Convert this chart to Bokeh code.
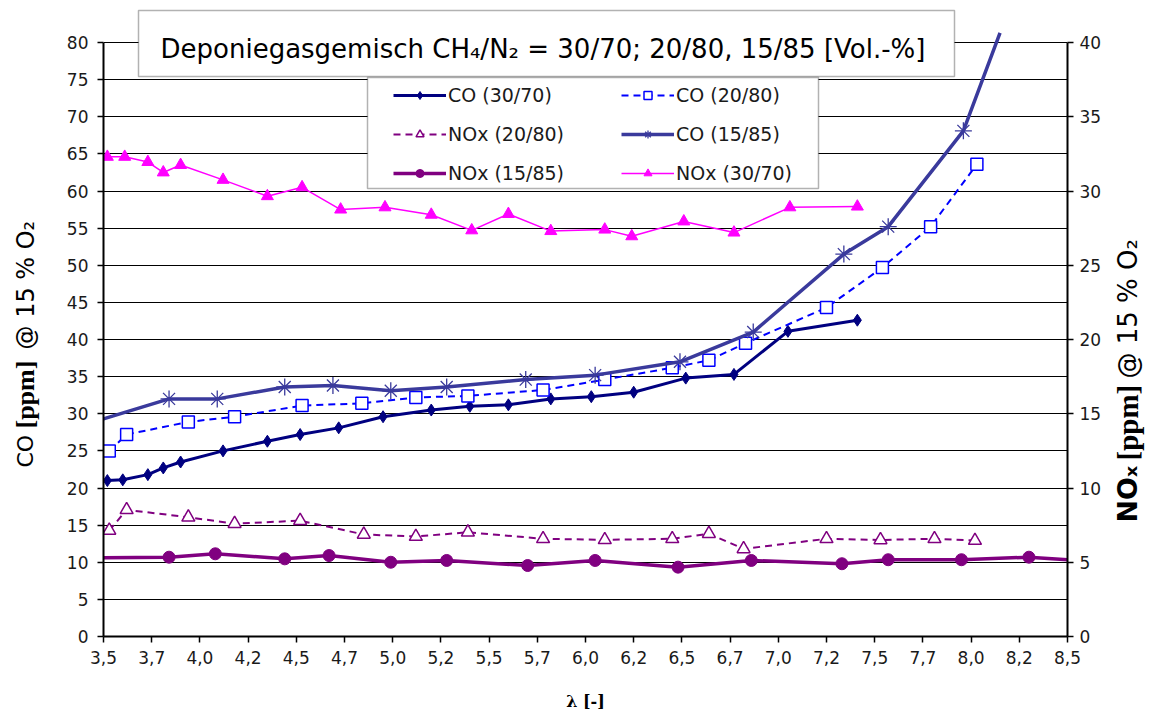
import math
from bokeh.plotting import figure
from bokeh.layouts import row
from bokeh.models import Range1d, LinearAxis, FixedTicker, Legend, LegendItem, Label, BoxAnnotation
from bokeh.embed import file_html
from bokeh.resources import INLINE

# ---------------- data ----------------
x_ticks = [3.5, 3.75, 4.0, 4.25, 4.5, 4.75, 5.0, 5.25, 5.5, 5.75, 6.0,
           6.25, 6.5, 6.75, 7.0, 7.25, 7.5, 7.75, 8.0, 8.25, 8.5]
x_tick_labels = ["3,5", "3,7", "4,0", "4,2", "4,5", "4,7", "5,0", "5,2", "5,5", "5,7", "6,0",
                 "6,2", "6,5", "6,7", "7,0", "7,2", "7,5", "7,7", "8,0", "8,2", "8,5"]
co_ticks = list(range(0, 81, 5))
nox_ticks = list(range(0, 41, 5))

co_30_70_x = [3.52, 3.60, 3.73, 3.81, 3.90, 4.12, 4.35, 4.52, 4.72, 4.95, 5.20, 5.40,
              5.60, 5.82, 6.03, 6.25, 6.52, 6.77, 7.05, 7.41]
co_30_70_y = [21.0, 21.1, 21.8, 22.7, 23.5, 25.0, 26.3, 27.2, 28.1, 29.6, 30.5, 31.0,
              31.2, 32.0, 32.3, 32.9, 34.8, 35.3, 41.1, 42.6]

co_20_80_x = [3.53, 3.62, 3.94, 4.18, 4.53, 4.84, 5.12, 5.39, 5.78, 6.10, 6.45, 6.64,
              6.83, 7.25, 7.54, 7.79, 8.03]
co_20_80_y = [25.0, 27.2, 28.9, 29.6, 31.1, 31.4, 32.2, 32.4, 33.2, 34.6, 36.2, 37.2,
              39.5, 44.3, 49.7, 55.2, 63.6]

co_15_85_x = [3.50, 3.84, 4.09, 4.44, 4.69, 4.99, 5.28, 5.69, 6.05, 6.49, 6.87, 7.34,
              7.57, 7.96, 8.15]
co_15_85_y = [29.3, 32.0, 32.0, 33.6, 33.8, 33.1, 33.6, 34.6, 35.2, 37.0, 41.0, 51.5,
              55.2, 68.1, 81.3]

nox_20_80_x = [3.53, 3.62, 3.94, 4.18, 4.52, 4.85, 5.12, 5.39, 5.78, 6.10, 6.45, 6.64,
               6.82, 7.25, 7.53, 7.81, 8.02]
nox_20_80_y = [7.14, 8.53, 8.03, 7.60, 7.80, 6.87, 6.73, 7.02, 6.58, 6.51, 6.58, 6.92,
               5.90, 6.58, 6.50, 6.58, 6.46]

nox_15_85_x = [3.50, 3.84, 4.08, 4.44, 4.67, 4.99, 5.28, 5.70, 6.05, 6.48, 6.86, 7.33,
               7.57, 7.95, 8.30, 8.50]
nox_15_85_y = [5.30, 5.34, 5.57, 5.23, 5.45, 5.00, 5.12, 4.78, 5.12, 4.67, 5.12, 4.90,
               5.17, 5.17, 5.34, 5.17]

nox_30_70_x = [3.52, 3.61, 3.73, 3.81, 3.90, 4.12, 4.35, 4.53, 4.73, 4.96, 5.20, 5.41,
               5.60, 5.82, 6.10, 6.24, 6.51, 6.77, 7.06, 7.41]
nox_30_70_y = [32.3, 32.3, 31.95, 31.25, 31.75, 30.75, 29.65, 30.25, 28.75, 28.9, 28.4, 27.35,
               28.45, 27.3, 27.4, 26.95, 27.95, 27.2, 28.9, 28.95]

title_text = "Deponiegasgemisch CH\u2084/N\u2082 = 30/70; 20/80, 15/85 [Vol.-%]"
left_title_parts = ["CO", "[ppm]", "@ 15 % O\u2082"]
right_title_parts = ["NO\u2093", "[ppm]", "@ 15 % O\u2082"]
bottom_title = "\u03bb [-]"

# ---------------- layout (picture pixels) ----------------
FL, FR, FT, FB = 103.0, 1067.0, 42.0, 636.0   # where the 0..80 / 3.5..8.5 box lies
XMIN, XMAX, YMIN, YMAX = 3.5, 8.5, 0.0, 80.0
PX_PER_Y = (FB - FT) / (YMAX - YMIN)
Y_TOP = (FB - 0.0) / PX_PER_Y                  # frame extends up to the picture top
H = 715
LEFT_STRIP = 50
RIGHT_STRIP = 38
MAIN_RIGHT_BORDER = 40


def px_x(px):
    return XMIN + (px - FL) * (XMAX - XMIN) / (FR - FL)


def px_y(py):
    return YMIN + (FB - py) / PX_PER_Y


SANS = "DejaVu Sans"
SERIF = "Liberation Serif"

p = figure(frame_width=int(FR - FL), frame_height=int(FB), output_backend="svg",
           toolbar_location=None,
           x_range=Range1d(XMIN, XMAX), y_range=Range1d(YMIN, Y_TOP),
           min_border_left=int(FL) - LEFT_STRIP, min_border_right=MAIN_RIGHT_BORDER,
           min_border_top=0, min_border_bottom=H - int(FB))
p.extra_y_ranges = {"nox": Range1d(0, Y_TOP / 2.0)}
p.outline_line_color = None
p.background_fill_color = "white"
p.border_fill_color = "white"

# axes
xa = p.xaxis[0]
xa.ticker = FixedTicker(ticks=x_ticks)
xa.major_label_overrides = {t: l for t, l in zip(x_ticks, x_tick_labels)}
ya = p.yaxis[0]
ya.ticker = FixedTicker(ticks=co_ticks)
ya.bounds = (0, 80)
ra = LinearAxis(y_range_name="nox", ticker=FixedTicker(ticks=nox_ticks), bounds=(0, 40))
p.add_layout(ra, "right")
for ax in (xa, ya, ra):
    ax.axis_line_color = "black"
    ax.axis_line_width = 2
    ax.major_tick_line_color = "black"
    ax.major_tick_line_width = 1.5
    ax.major_tick_out = 6
    ax.major_tick_in = 0
    ax.minor_tick_out = 0
    ax.minor_tick_in = 0
    ax.major_label_text_font = SANS
    ax.major_label_text_font_size = "17px"
    ax.major_label_text_color = "#1a1a1a"
xa.major_label_standoff = 8
ya.major_label_standoff = 9
ra.major_label_standoff = 6

xa.axis_label = bottom_title
xa.axis_label_text_font = "DejaVu Serif"
xa.axis_label_text_font_style = "bold"
xa.axis_label_text_font_size = "16px"
xa.axis_label_text_color = "black"
xa.axis_label_standoff = 25

p.xgrid.visible = False
p.ygrid[0].ticker = FixedTicker(ticks=co_ticks)
p.ygrid.grid_line_color = "black"
p.ygrid.grid_line_width = 1

# series
r_co1 = p.line(co_30_70_x, co_30_70_y, line_color="#000080", line_width=3)
m_co1 = p.scatter(co_30_70_x, co_30_70_y, marker="diamond", size=12,
                  fill_color="#000080", line_color="#000080")

r_co2 = p.line(co_20_80_x, co_20_80_y, line_color="#0000FF", line_width=2, line_dash="7 5")
m_co2 = p.scatter(co_20_80_x, co_20_80_y, marker="square", size=12,
                  fill_color="white", line_color="#0000FF", line_width=1.5)

r_nx2 = p.line(nox_20_80_x, nox_20_80_y, line_color="#800080", line_width=2,
               line_dash="7 5", y_range_name="nox")
m_nx2 = p.scatter(nox_20_80_x, nox_20_80_y, marker="triangle", size=13,
                  fill_color="white", line_color="#800080", line_width=1.5, y_range_name="nox")

r_co3 = p.line(co_15_85_x, co_15_85_y, line_color="#3A3A9C", line_width=3.5)
m_co3 = p.scatter(co_15_85_x[1:-1], co_15_85_y[1:-1], marker="asterisk", size=17,
                  line_color="#3A3A9C", line_width=1.3)

r_nx3 = p.line(nox_15_85_x, nox_15_85_y, line_color="#800080", line_width=3.5, y_range_name="nox")
m_nx3 = p.scatter(nox_15_85_x[1:-1], nox_15_85_y[1:-1], marker="circle", size=12,
                  fill_color="#800080", line_color="#800080", y_range_name="nox")

r_nx1 = p.line(nox_30_70_x, nox_30_70_y, line_color="#FF00FF", line_width=1.5, y_range_name="nox")
m_nx1 = p.scatter(nox_30_70_x, nox_30_70_y, marker="triangle", size=12,
                  fill_color="#FF00FF", line_color="#FF00FF", y_range_name="nox")

# title box
p.add_layout(BoxAnnotation(left=px_x(138), right=px_x(954), top=px_y(10), bottom=px_y(76),
                           fill_color="white", fill_alpha=1.0, line_color="black",
                           line_width=1.5))
p.add_layout(Label(x=px_x(160), y=px_y(48), text=title_text, text_font=SANS,
                   text_font_size="26px", text_color="black", text_baseline="alphabetic"))

# legend box + legend
p.add_layout(BoxAnnotation(left=px_x(367), right=px_x(818), top=px_y(77), bottom=px_y(188),
                           fill_color="white", fill_alpha=1.0, line_color="black",
                           line_width=1.5))
legend = Legend(items=[
    LegendItem(label="CO (30/70)", renderers=[r_co1, m_co1]),
    LegendItem(label="CO (20/80)", renderers=[r_co2, m_co2]),
    LegendItem(label="NOx (20/80)", renderers=[r_nx2, m_nx2]),
    LegendItem(label="CO (15/85)", renderers=[r_co3, m_co3]),
    LegendItem(label="NOx (15/85)", renderers=[r_nx3, m_nx3]),
    LegendItem(label="NOx (30/70)", renderers=[r_nx1, m_nx1]),
], orientation="horizontal", ncols=2, location=(290, 452), margin=0, padding=0,
    spacing=17, glyph_width=53, glyph_height=20, label_height=20, label_width=156,
    label_standoff=2, label_text_font=SANS, label_text_font_size="19px",
    label_text_color="#1a1a1a", border_line_alpha=0, background_fill_alpha=0)
p.add_layout(legend)


# ---------------- axis-title strips (mixed fonts) ----------------
def strip(width):
    s = figure(frame_width=width, frame_height=H, title=None,
               x_range=Range1d(0, width), y_range=Range1d(0, H),
               x_axis_location=None, y_axis_location=None, toolbar_location=None,
               output_backend="svg", min_border=0, min_border_left=0, min_border_right=0,
               min_border_top=0, min_border_bottom=0)
    s.outline_line_color = None
    s.background_fill_color = "white"
    s.border_fill_color = "white"
    for g in s.grid:
        g.visible = False
    return s


def vlabel(s, x, py, text, font, style, size):
    s.add_layout(Label(x=x, y=H - py, text=text, angle=90, angle_units="deg",
                       text_font=font, text_font_style=style, text_font_size=size,
                       text_color="black", text_align="left", text_baseline="middle"))


ls = strip(LEFT_STRIP)
vlabel(ls, 25, 467, left_title_parts[0], SANS, "normal", "22px")
vlabel(ls, 25, 428, left_title_parts[1], SERIF, "bold", "26px")
vlabel(ls, 25, 349, left_title_parts[2], SANS, "normal", "24px")

rs = strip(RIGHT_STRIP)
vlabel(rs, 20, 522, right_title_parts[0], SANS, "bold", "27px")
vlabel(rs, 20, 460, right_title_parts[1], SERIF, "bold", "29px")
vlabel(rs, 20, 378, right_title_parts[2], SANS, "normal", "26px")

layout = row(ls, p, rs, spacing=0)
open("out.html", "w").write(file_html(layout, INLINE))
